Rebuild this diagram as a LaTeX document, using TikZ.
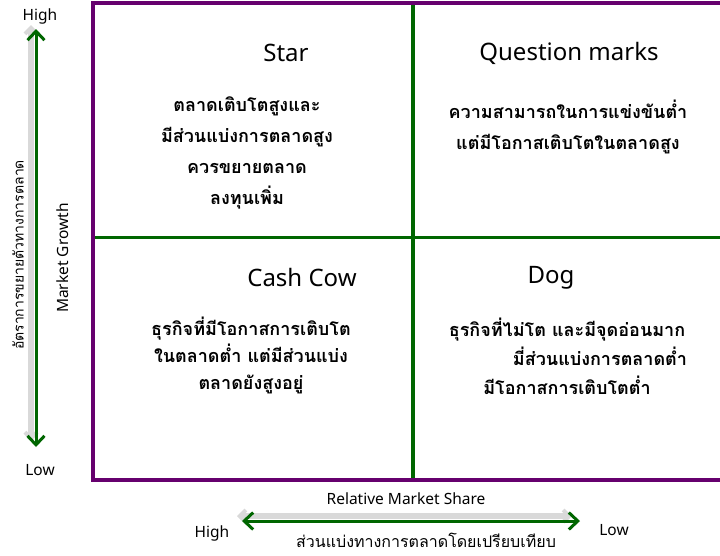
\documentclass[tikz,border=0pt]{standalone}
\usepackage{fontspec}
\setmainfont{Noto Sans}
\newfontfamily\thaifont[Script=Thai]{Loma}
\usetikzlibrary{arrows.meta}
\definecolor{bcgpurple}{RGB}{102,0,110}
\definecolor{bcggreen}{RGB}{0,102,0}
\tikzset{
  frameline/.style={draw=bcgpurple, line width=4pt},
  divider/.style={draw=bcggreen, line width=3.5pt},
  qtitle/.style={font=\fontsize{24}{28}\selectfont, inner sep=0pt},
  qbody/.style={font=\thaifont\bfseries\fontsize{18}{31}\selectfont, align=center, inner sep=0pt},
  axislbl/.style={font=\fontsize{15.5}{18}\selectfont, inner sep=0pt},
  axisthai/.style={font=\thaifont\fontsize{16}{19}\selectfont, inner sep=0pt},
  garrow/.style={draw=bcggreen, line width=3pt,
    {Straight Barb[length=9pt,width=17pt,line width=3pt]}-{Straight Barb[length=9pt,width=17pt,line width=3pt]}},
  sarrow/.style={draw=gray!30, line width=6pt, line cap=round,
    {Straight Barb[length=6pt,width=12pt,line width=4pt]}-{Straight Barb[length=6pt,width=12pt,line width=4pt]}},
}
\begin{document}
\begin{tikzpicture}[x=1pt,y=-1pt]
\useasboundingbox (0,0) rectangle (720,555);
\fill[white] (0,0) rectangle (720,555);
% frame corners
\coordinate (ftr) at (720,2.5);
\coordinate (ftl) at (92.5,2.5);
\coordinate (fbl) at (92.5,479.5);
\coordinate (fbr) at (720,479.5);
% dividers
\coordinate (vtop) at (413,2.5);
\coordinate (vbot) at (413,479.5);
\coordinate (hleft) at (92.5,237.5);
\coordinate (hright) at (720,237.5);
\draw[divider] (vtop) -- (vbot);
\draw[divider] (hleft) -- (hright);
\draw[frameline, line join=miter] (ftr) -- (ftl) -- (fbl) -- (fbr);

% quadrant texts
\node[qtitle] (star) at (286,53) {Star};
\node[qbody] (startxt) at (247,153) {ตลาดเติบโตสูงและ\\มีส่วนแบ่งการตลาดสูง\\ควรขยายตลาด\\ลงทุนเพิ่ม};
\node[qtitle] (qm) at (569,53) {Question marks};
\node[qbody] (qmtxt) at (568,127) {ความสามารถในการแข่งขันต่ำ\\แต่มีโอกาสเติบโตในตลาดสูง};
\node[qtitle] (cow) at (302,277) {Cash Cow};
\node[qbody, font=\thaifont\bfseries\fontsize{18}{27}\selectfont] (cowtxt) at (251,355) {ธุรกิจที่มีโอกาสการเติบโต\\ในตลาดต่ำ แต่มีส่วนแบ่ง\\ตลาดยังสูงอยู่};
\node[qtitle] (dog) at (551,278) {Dog};
\node[qbody, font=\thaifont\bfseries\fontsize{18}{29}\selectfont] (dogtxt) at (567,356) {ธุรกิจที่ไม่โต และมีจุดอ่อนมาก\\\hspace*{66pt}มี่ส่วนแบ่งการตลาดต่ำ\\มีโอกาสการเติบโตต่ำ};

% vertical axis
\coordinate (vatop) at (36,29);
\coordinate (vabot) at (36,447);
\draw[sarrow] ([xshift=-5pt,yshift=4pt]vatop) -- ([xshift=-5pt,yshift=6pt]vabot);
\draw[garrow] (vatop) -- (vabot);
\node[axislbl] (vhigh) at (40,16) {High};
\node[axislbl] (vlow) at (40,470) {Low};
\node[axislbl, rotate=90] (mg) at (63,258) {Market Growth};
\node[axisthai, font=\thaifont\fontsize{14}{17}\selectfont, rotate=90] (mgthai) at (18,255) {อัตราการขยายตัวทางการตลาด};

% horizontal axis
\coordinate (haleft) at (242,521);
\coordinate (haright) at (580,521);
\draw[sarrow] ([xshift=-5pt,yshift=5pt]haleft) -- ([xshift=-8pt,yshift=5pt]haright);
\draw[garrow] (haleft) -- (haright);
\node[axislbl] (rms) at (406,499) {Relative Market Share};
\node[axislbl] (hhigh) at (212,533) {High};
\node[axislbl] (hlow) at (614,530) {Low};
\node[axisthai, anchor=base] (rmsthai) at (426,547) {ส่วนแบ่งทางการตลาดโดยเปรียบเทียบ};
\end{tikzpicture}
\end{document}
